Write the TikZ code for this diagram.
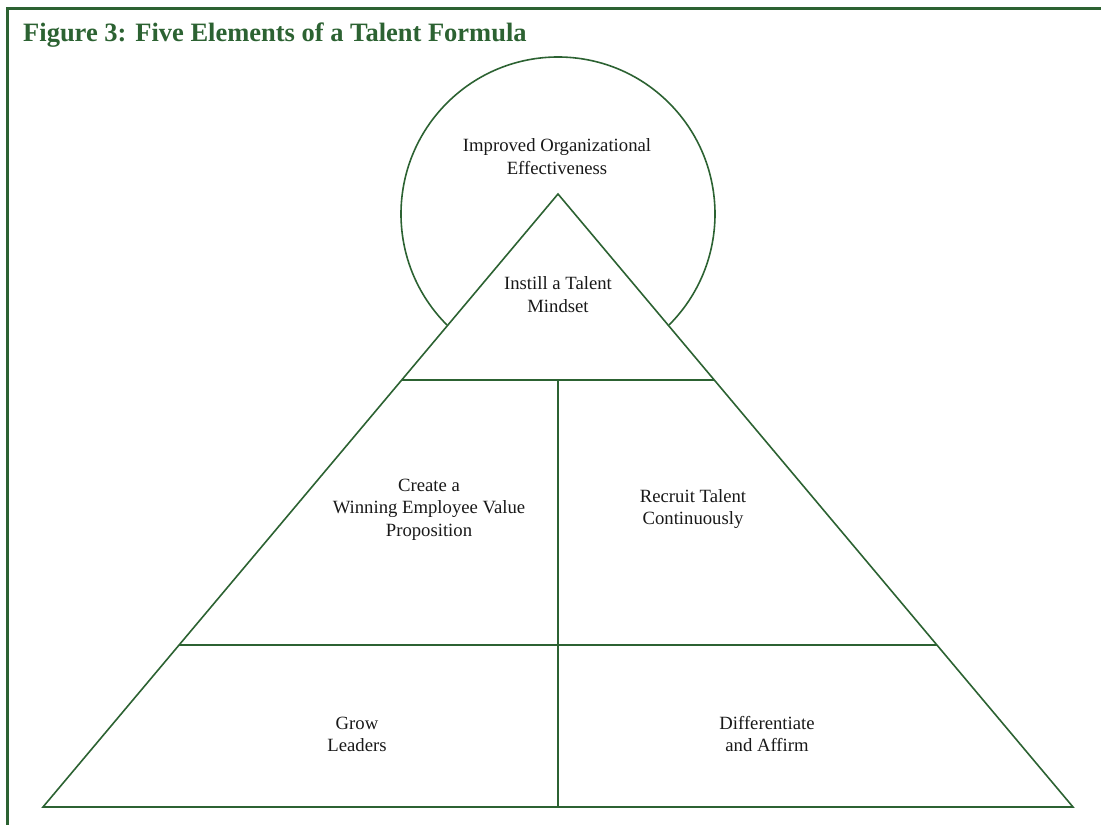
\documentclass[tikz,border=0pt]{standalone}
\usepackage{fontspec}
\setmainfont{Liberation Serif}
\definecolor{fgreen}{RGB}{44,98,50}
\definecolor{txt}{RGB}{25,25,25}
\tikzset{
  frameline/.style={draw=fgreen, line width=2.8pt},
  shapeline/.style={draw=fgreen, line width=1.6pt},
  label/.style={align=center, text=txt, inner sep=0pt, font=\fontsize{18.7}{22.5}\selectfont},
  titlestyle/.style={text=fgreen, inner sep=0pt, font=\fontsize{26.5}{30}\selectfont\bfseries}
}
\begin{document}
\begin{tikzpicture}[x=1pt,y=1pt]
\useasboundingbox (0,0) rectangle (1101,825);
% frame (top and left)
\coordinate (fb) at (7.7,-5);
\coordinate (fc) at (7.7,816.7);
\coordinate (fr) at (1106,816.7);
\draw[frameline] (fb) -- (fc) -- (fr);
\node[titlestyle, anchor=base west] (title) at (23,783) {Figure 3: Five Elements of a Talent Formula};
% pyramid
\coordinate (apex) at (558,631);
\coordinate (bl) at (43,18);
\coordinate (br) at (1073,18);
\coordinate (bm) at (558,18);
\coordinate (m1l) at (401.8,445);
\coordinate (m1r) at (714.2,445);
\coordinate (m1m) at (558,445);
\coordinate (m2l) at (179.1,180);
\coordinate (m2r) at (936.9,180);
\draw[shapeline, line join=miter] (apex) -- (bl) -- (br) -- cycle;
\draw[shapeline] (m1l) -- (m1r);
\draw[shapeline] (m2l) -- (m2r);
\draw[shapeline] (m1m) -- (bm);
% circle arc
\coordinate (cc) at (558,611);
\draw[shapeline] ([shift={(-45:157)}]cc) arc[start angle=-45, end angle=225, radius=157];
% labels
\node[label] (goal) at (557,668.3) {Improved Organizational\\Effectiveness};
\node[label] (mind) at (558,530.3) {Instill a Talent\\Mindset};
\node[label] (evp) at (429,315.3) {Create a\\Winning Employee Value\\Proposition};
\node[label] (recruit) at (693,315.8) {Recruit Talent\\Continuously};
\node[label] (grow) at (357,90.8) {Grow\\Leaders};
\node[label] (diff) at (767,90.8) {Differentiate\\and Affirm};
\end{tikzpicture}
\end{document}
